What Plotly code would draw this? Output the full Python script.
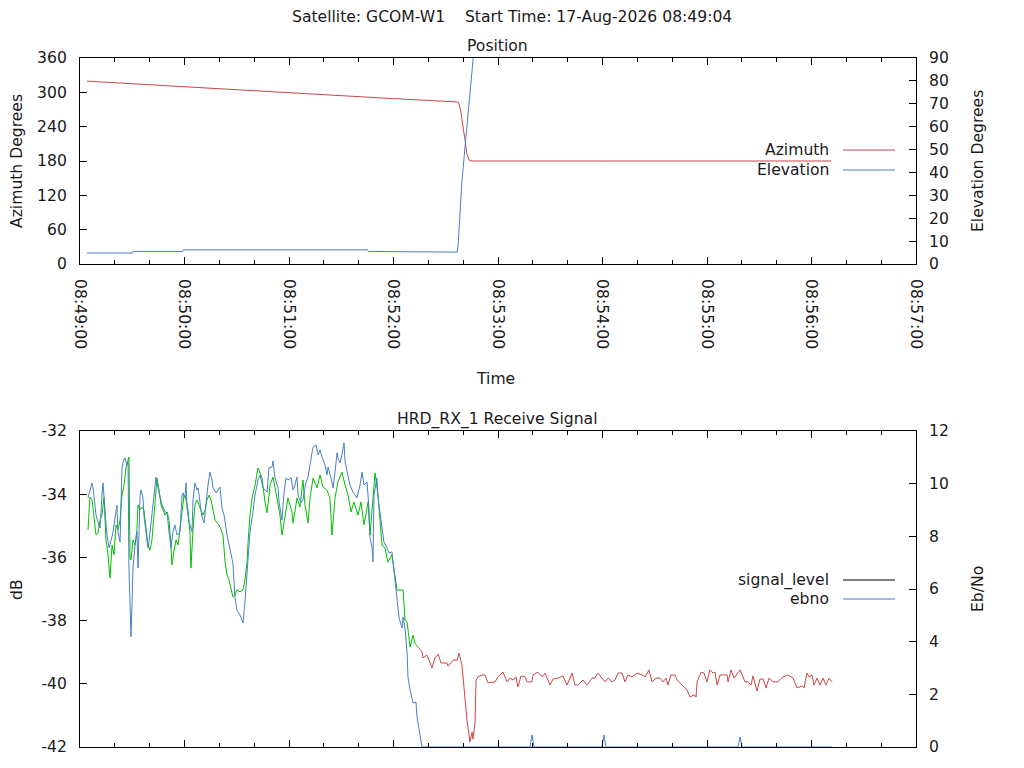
import pandas as pd
import plotly.graph_objects as go

BASE = pd.Timestamp("2026-08-17 08:49:00")

# ---------------- Position data (seconds after 08:49:00) ----------------
az_t = [4, 60, 120, 180, 216.6, 217.3, 218.5, 219.2, 220.2, 221.1, 222.0, 223.5, 225.0, 300, 431.2]
az_v = [319.5, 309.4, 299.0, 289.0, 283.2, 283.0, 270.0, 252.0, 234.0, 217.0, 194.0, 181.0, 180.0, 180.0, 180.0]

el_t = [4, 30, 30.5, 59, 59.5, 165, 165.5, 194, 194.5, 216.6, 217.2, 218.2, 219.2, 221.1, 223.0, 224.3, 225.8, 226.5]
el_v = [4.8, 4.8, 5.5, 5.5, 6.2, 6.2, 5.5, 5.5, 5.2, 5.2, 9.2, 22.3, 35.4, 51.4, 66.0, 79.1, 90.0, 96.0]

# ---------------- Receive signal data ----------------
# signal_level while locked (green)
sig_lock_t = [4.6, 5.7, 6.9, 8.0, 9.2, 10.3, 11.5, 12.6, 13.8, 14.9, 16.1, 17.2, 18.4, 19.5, 20.7, 21.8,
              23.0, 24.1, 25.3, 26.4, 27.6, 28.1, 28.7, 29.3, 30.4, 31.6, 32.7, 33.3, 34.5, 35.6, 36.7,
              37.9, 39.0, 40.2, 41.3, 42.5, 43.6, 44.2, 45.4, 46.5, 47.7, 48.8, 50.0, 51.1, 52.2, 52.8,
              54.0, 55.1, 56.3, 57.4, 58.6, 59.7, 60.9, 62.0, 63.2, 63.7, 64.9, 66.0, 67.2, 68.3, 69.5,
              70.6, 71.8, 72.9, 74.1, 75.2, 76.4, 77.5, 78.7, 79.8, 81.0, 82.1, 83.3, 84.4, 85.6, 86.7,
              87.8, 89.0, 90.1, 91.9, 93.6, 94.7, 95.9, 96.5, 97.6, 98.8, 100.5, 102.2, 104.5, 106.2,
              107.4, 109.1, 110.8, 113.1, 114.8, 116.0, 117.7, 119.4, 121.7, 122.3, 124.6, 126.3, 128.0,
              129.2, 130.9, 132.1, 133.8, 136.1, 137.8, 139.5, 141.8, 143.5, 144.7, 146.4, 148.1, 150.4,
              152.2, 153.9, 155.6, 157.3, 159.6, 161.3, 163.1, 165.4, 166.5, 168.2, 169.4, 171.1, 172.3,
              173.4, 175.1, 176.8, 179.1, 180.9, 182.0, 185.5, 186.6, 187.8, 189.5, 191.2, 192.3, 194.1]
sig_lock_v = [-35.13, -34.09, -34.18, -34.66, -35.29, -35.23, -34.82, -34.66, -34.09, -35.45, -35.92,
              -36.65, -35.61, -35.92, -34.97, -35.13, -34.82, -34.03, -33.71, -33.17, -32.92, -32.82,
              -36.02, -36.08, -35.45, -35.61, -35.13, -34.34, -34.50, -34.41, -34.50, -35.13, -35.61,
              -35.77, -35.45, -34.66, -33.87, -33.49, -33.87, -34.34, -34.50, -34.66, -34.56, -34.82,
              -35.61, -36.24, -35.77, -35.45, -35.61, -35.13, -34.50, -34.03, -34.18, -34.50, -35.29,
              -36.34, -35.13, -34.34, -34.18, -34.34, -34.50, -34.66, -34.50, -34.18, -34.03, -34.18,
              -34.50, -34.82, -34.91, -34.97, -35.13, -35.29, -36.15, -36.56, -36.72, -36.97, -37.25,
              -37.19, -37.03, -37.09, -37.03, -36.72, -36.15, -35.51, -34.66, -34.12, -33.71, -33.17,
              -33.49, -34.25, -34.59, -33.71, -33.46, -34.12, -34.66, -35.29, -34.75, -34.12, -34.56,
              -34.91, -34.12, -34.41, -33.55, -34.34, -34.91, -34.12, -33.49, -33.80, -33.39, -33.77,
              -33.87, -34.12, -35.29, -34.12, -33.61, -33.30, -33.71, -34.03, -34.56, -34.25, -34.66,
              -34.25, -34.97, -34.25, -35.29, -34.25, -33.33, -34.03, -34.97, -35.61, -35.70, -36.15,
              -35.92, -36.56, -37.03, -37.03, -37.98, -38.04, -38.84, -38.46, -38.71, -38.84]

# signal_level after lock lost (red)
sig_unlock_t = [194.1, 196.4, 196.9, 199.2, 200.4, 202.1, 203.8, 205.6, 207.3, 210.7, 211.3, 214.2, 216.5,
                217.6, 219.3, 221.1, 222.2, 223.9, 225.1, 225.6, 226.8, 227.4, 228.5, 230.8, 232.5, 234.3,
                236.6, 238.3, 240.0, 242.9, 245.2, 246.9, 248.6, 250.3, 251.5, 253.2, 255.5, 256.7, 259.5,
                260.1, 263.0, 265.3, 267.0, 268.7, 269.9, 271.6, 274.5, 277.3, 279.6, 282.5, 284.2, 285.9,
                288.8, 291.1, 294.0, 295.7, 297.4, 301.4, 303.2, 305.5, 307.2, 308.9, 311.2, 312.9, 314.6,
                316.9, 319.8, 322.7, 324.4, 326.7, 328.4, 330.7, 333.0, 334.7, 336.5, 337.6, 339.3, 341.6,
                342.8, 345.7, 348.5, 350.3, 352.6, 353.7, 354.3, 356.6, 358.3, 360.0, 361.7, 363.5, 364.6,
                365.8, 367.5, 371.5, 372.1, 373.8, 375.5, 379.0, 381.8, 383.5, 385.3, 386.4, 388.7, 390.4,
                392.2, 393.9, 395.6, 397.9, 400.8, 403.6, 406.5, 409.4, 411.7, 414.6, 415.7, 417.4, 418.6,
                420.3, 421.4, 423.2, 424.9, 426.6, 428.3, 430.1, 431.8]
sig_unlock_v = [-38.84, -38.99, -39.18, -39.09, -39.25, -39.50, -39.18, -39.06, -39.34, -39.34, -39.44,
                -39.25, -39.25, -39.03, -39.41, -40.51, -41.15, -41.84, -41.53, -41.75, -41.24, -39.88,
                -39.78, -39.72, -39.72, -39.97, -39.94, -39.94, -39.78, -39.63, -39.94, -39.82, -39.88,
                -39.78, -40.10, -39.75, -39.78, -39.94, -39.94, -39.72, -39.63, -39.78, -39.66, -39.88,
                -40.04, -39.85, -39.82, -39.75, -40.04, -39.66, -40.04, -40.04, -39.88, -40.04, -39.82,
                -39.82, -39.66, -39.94, -39.82, -39.94, -39.88, -39.66, -39.66, -39.94, -39.72, -39.78,
                -39.66, -39.72, -39.78, -39.56, -39.94, -39.82, -39.82, -39.94, -39.82, -40.04, -39.72,
                -39.72, -39.88, -40.04, -40.20, -40.42, -40.35, -40.42, -39.94, -39.63, -39.66, -39.94,
                -39.56, -39.66, -39.63, -40.04, -39.72, -39.72, -39.94, -39.56, -39.82, -39.56, -39.94,
                -39.94, -40.04, -39.75, -40.23, -39.85, -39.85, -40.13, -39.82, -39.94, -39.94, -39.78,
                -39.72, -39.82, -40.13, -40.07, -40.13, -39.66, -39.78, -39.72, -40.04, -39.82, -40.04,
                -39.82, -40.04, -39.82, -39.94]

# Eb/No (blue)
ebno_t = [4.6, 6.9, 7.5, 8.6, 9.2, 10.3, 11.5, 12.6, 13.2, 14.4, 15.5, 16.7, 18.4, 18.9, 21.2, 21.8, 23.0,
          24.1, 24.7, 25.8, 27.0, 27.6, 28.1, 28.7, 29.3, 29.9, 30.4, 31.6, 32.7, 33.3, 33.9, 34.5, 35.0,
          36.2, 36.7, 37.9, 39.0, 39.6, 40.8, 41.9, 43.1, 43.6, 44.8, 47.1, 48.8, 50.0, 51.1, 52.2, 53.4,
          54.5, 55.7, 57.4, 58.6, 59.1, 60.3, 60.9, 61.4, 62.6, 64.3, 64.9, 66.0, 67.2, 67.8, 68.9, 70.0,
          71.2, 72.3, 73.5, 74.6, 75.8, 76.4, 78.1, 79.2, 80.4, 81.5, 82.7, 84.4, 85.6, 87.3, 87.8, 89.0,
          90.1, 91.9, 93.6, 94.7, 96.5, 97.6, 99.3, 100.5, 102.2, 103.4, 105.1, 107.4, 108.5, 110.2, 110.8,
          112.0, 113.7, 114.3, 116.0, 117.1, 118.3, 119.4, 121.2, 122.3, 122.9, 124.6, 125.2, 126.9, 128.0,
          129.8, 130.9, 132.1, 133.2, 133.8, 135.5, 136.7, 137.8, 139.0, 140.7, 141.8, 142.4, 144.1, 145.3,
          146.4, 147.6, 148.1, 149.3, 150.4, 151.6, 152.2, 153.3, 155.0, 156.7, 159.0, 160.8, 161.9, 163.1,
          164.8, 165.9, 166.5, 167.7, 168.2, 168.8, 170.5, 171.1, 172.3, 173.4, 174.5, 176.3, 177.4, 179.1,
          179.7, 180.9, 182.0, 183.2, 184.9, 185.5, 186.6, 187.8, 188.3, 189.5, 191.2, 192.9, 193.5, 194.6,
          195.8, 196.4, 258.4, 259.5, 260.7, 299.7, 300.9, 302.0, 377.8, 379.0, 380.1, 431.8]
ebno_v = [9.46, 10.03, 9.84, 9.19, 8.81, 8.55, 8.32, 9.57, 10.03, 8.93, 8.05, 7.56, 8.05, 8.13, 9.19, 8.17,
          7.79, 10.60, 10.82, 10.98, 10.71, 10.82, 6.80, 5.39, 4.18, 5.51, 6.80, 7.67, 8.17, 6.80, 8.55,
          9.57, 9.76, 9.46, 8.81, 8.05, 7.56, 7.79, 8.55, 9.30, 10.06, 10.25, 9.84, 9.19, 8.93, 8.89, 8.17,
          7.56, 8.17, 8.43, 8.05, 8.17, 9.57, 9.65, 9.46, 10.03, 9.08, 8.55, 8.17, 9.38, 10.03, 9.76, 9.84,
          9.30, 8.74, 8.51, 9.30, 9.95, 10.44, 10.14, 9.84, 9.65, 9.76, 9.87, 9.08, 8.81, 8.05, 7.67, 7.18,
          6.99, 5.66, 5.20, 5.01, 4.71, 5.51, 7.03, 8.17, 8.93, 9.57, 10.14, 10.33, 9.84, 9.68, 10.60, 10.63,
          10.86, 10.22, 9.84, 9.30, 8.62, 9.65, 10.22, 10.14, 10.22, 9.76, 9.84, 10.25, 9.57, 9.27, 9.38,
          10.06, 10.25, 10.82, 11.17, 11.39, 11.47, 11.09, 11.28, 11.01, 10.71, 10.33, 10.63, 10.22, 9.84,
          10.44, 11.17, 10.98, 10.79, 11.09, 11.55, 10.82, 10.44, 9.95, 9.68, 9.46, 9.95, 10.44, 9.95, 10.06,
          9.08, 7.94, 7.56, 7.03, 9.57, 10.22, 9.46, 8.81, 8.32, 7.79, 7.56, 7.37, 7.41, 7.03, 6.53, 5.58,
          4.90, 4.52, 4.94, 4.52, 3.57, 2.66, 2.17, 1.67, 1.71, 1.14, 0.65, 0.27, 0.0, 0.0, 0.46, 0.0, 0.0,
          0.46, 0.0, 0.0, 0.38, 0.0, 0.0]

# tick labels of the dB axis (plain hyphen-minus as in the reference)
db_tickvals = [-42, -40, -38, -36, -34, -32]
db_ticktext = ["-42", "-40", "-38", "-36", "-34", "-32"]

TITLE = "Satellite: GCOM-W1    Start Time: 17-Aug-2026 08:49:04"
X_RANGE = ["2026-08-17 08:49:00", "2026-08-17 08:57:00"]

RED = "#c84646"
BLUE = "#4a7fc4"
GREEN = "#00bf00"
FONT = "DejaVu Sans"
FS = 15.6
TXT = "#1a1a1a"


def ts(seconds):
    return BASE + pd.to_timedelta(pd.Series(seconds, dtype=float), unit="s")


fig = go.Figure()
fig.add_trace(go.Scatter(x=ts(az_t), y=az_v, mode="lines", line=dict(color=RED, width=1),
                         xaxis="x", yaxis="y", name="Azimuth", showlegend=False))
fig.add_trace(go.Scatter(x=ts(el_t), y=el_v, mode="lines", line=dict(color=BLUE, width=1),
                         xaxis="x", yaxis="y2", name="Elevation", showlegend=False))
fig.add_trace(go.Scatter(x=ts(ebno_t), y=ebno_v, mode="lines", line=dict(color=BLUE, width=1),
                         xaxis="x2", yaxis="y4", name="ebno", showlegend=False))
fig.add_trace(go.Scatter(x=ts(sig_lock_t), y=sig_lock_v, mode="lines", line=dict(color=GREEN, width=1),
                         xaxis="x2", yaxis="y3", name="signal_level", showlegend=False))
fig.add_trace(go.Scatter(x=ts(sig_unlock_t), y=sig_unlock_v, mode="lines", line=dict(color=RED, width=1),
                         xaxis="x2", yaxis="y3", name="signal_level", showlegend=False))

axis_common = dict(showgrid=False, zeroline=False, showline=True, linecolor="black", linewidth=1,
                   ticks="inside", tickcolor="black", tickwidth=1, ticklen=7,
                   tickfont=dict(family=FONT, size=FS, color=TXT))

xcommon = dict(axis_common, type="date", range=X_RANGE, dtick=60000, tick0="2026-08-17 08:49:00",
               tickformat="%H:%M:%S", mirror="ticks",
               minor=dict(dtick=20000, ticks="inside", ticklen=4, tickcolor="black", tickwidth=1,
                          showgrid=False))

TOP = [0.701, 1.0]
BOT = [0.0, 0.4586]

# the page adds an 8px body margin, so the figure margins are reduced by 8px on the left/top
fig.update_layout(
    width=1024, height=768,
    margin=dict(l=72, r=116, t=50, b=29, autoexpand=False),
    paper_bgcolor="white", plot_bgcolor="white",
    showlegend=False,
    font=dict(family=FONT, size=FS, color=TXT),
    xaxis=dict(xcommon, domain=[0, 1], anchor="y", tickangle=90, ticklabelstandoff=11),
    xaxis2=dict(xcommon, domain=[0, 1], anchor="y3", showticklabels=False),
    yaxis=dict(axis_common, domain=TOP, range=[0, 360], dtick=60, anchor="x", ticklabelstandoff=9),
    yaxis2=dict(axis_common, domain=TOP, range=[0, 90], dtick=10, overlaying="y", side="right",
                anchor="x", ticklabelstandoff=9),
    yaxis3=dict(axis_common, domain=BOT, range=[-42, -32], tickmode="array", tickvals=db_tickvals,
                ticktext=db_ticktext, anchor="x2", ticklabelstandoff=9),
    yaxis4=dict(axis_common, domain=BOT, range=[0, 12], dtick=2, overlaying="y3", side="right",
                anchor="x2", ticklabelstandoff=9),
)


def px(xp):
    return (xp - 80) / 836.0


def py(yp):
    return (747 - yp) / 689.0


ann = [
    (TITLE, 511.5, 17, 0),
    ("Position", 497, 46, 0),
    ("HRD_RX_1 Receive Signal", 497, 420, 0),
    ("Azimuth Degrees", 17, 161, -90),
    ("Elevation Degrees", 978, 161, -90),
    ("Time", 495, 379, 0),
    ("dB", 17, 589, -90),
    ("Eb/No", 978, 589, -90),
]
for text, xp, yp, ang in ann:
    fig.add_annotation(text=text, x=px(xp), y=py(yp), xref="paper", yref="paper",
                       showarrow=False, textangle=ang, xanchor="center", yanchor="middle",
                       borderpad=0, font=dict(family=FONT, size=FS, color=TXT))

legend_items = [
    ("Azimuth", 150, RED),
    ("Elevation", 170, BLUE),
    ("signal_level", 580, "black"),
    ("ebno", 599, BLUE),
]
for text, yp, col in legend_items:
    fig.add_annotation(text=text, x=px(831), y=py(yp), xref="paper", yref="paper",
                       showarrow=False, xanchor="right", yanchor="middle",
                       font=dict(family=FONT, size=FS, color=TXT))
    fig.add_shape(type="line", xref="paper", yref="paper", x0=px(843), x1=px(895),
                  y0=py(yp), y1=py(yp), line=dict(color=col, width=1))

fig.write_html("out.html")
